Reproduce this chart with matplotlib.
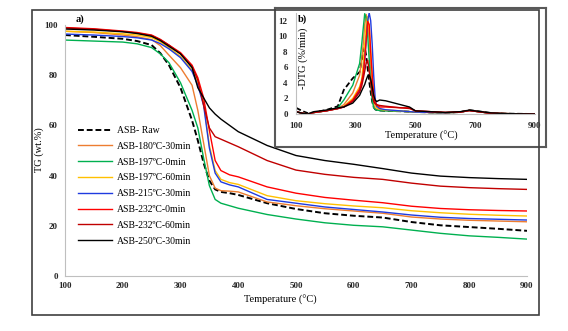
import matplotlib
matplotlib.use('Agg')
import matplotlib.pyplot as plt
from matplotlib.patches import Rectangle

plt.rcParams['font.family'] = ['Liberation Serif', 'DejaVu Serif']

# ---- TG data (wt.%) ----
temp_tg = [100, 150, 200, 225, 250, 265, 280, 300, 320, 330, 340, 350, 360, 370, 385, 400,
           450, 500, 550, 600, 650, 700, 750, 800, 850, 900]

tg_raw = [96, 95.3, 94.5, 93.6, 92, 88.8, 84, 75, 62, 54, 45, 38, 34.5, 33.5, 33, 32.3,
          29, 26.7, 25, 24, 23.3, 21.5, 20.2, 19.5, 18.8, 18]
tg_180_30 = [97.5, 97, 96, 95.3, 94.2, 91.8, 88, 83, 76, 66, 53, 40, 35, 34, 33.8, 33.5,
             29.5, 28, 26.8, 25.9, 25, 23.5, 22.7, 22.2, 21.9, 21.6]
tg_197_0 = [94, 93.6, 93.2, 92.5, 91, 88.5, 85, 77, 66, 59, 47, 36, 30.5, 29, 28, 27,
            24.5, 22.7, 21.2, 20.2, 19.6, 18.3, 17, 16, 15.4, 14.7]
tg_197_60 = [97.5, 97.2, 96.5, 96, 95, 93.3, 91, 87.5, 82, 77, 69, 52, 42, 38.5, 37.2, 36.5,
             32, 30, 28.8, 27.9, 27.2, 26, 25.2, 24.6, 24.2, 23.9]
tg_215_30 = [96.4, 96, 95.4, 94.9, 94, 92.6, 90.5, 87, 81.5, 76, 68, 51, 41, 37.5, 36.3, 35.5,
             30.5, 29, 27.5, 26.5, 25.5, 24.3, 23.4, 22.9, 22.6, 22.3]
tg_232_0 = [99, 98.5, 97.6, 97, 96, 94.3, 92, 89, 84, 79, 71, 58, 46, 42, 40.3, 39.5,
            35.5, 33, 31.3, 30.2, 29.2, 27.8, 26.9, 26.4, 26.1, 25.9]
tg_232_60 = [98.8, 98.3, 97.4, 96.8, 95.8, 94.1, 92, 88.5, 83.5, 78, 68, 59, 55.5, 54.5, 53, 51.5,
             46, 42.2, 40.5, 39.3, 38.5, 37, 35.8, 35.2, 34.8, 34.5]
tg_250_30 = [98.4, 98, 97.3, 96.6, 95.5, 93.8, 91.5, 88.5, 83, 75, 71, 67, 64.5, 62.5, 60, 57.5,
             52, 48, 46, 44.5, 42.8, 41, 39.8, 39.2, 38.8, 38.5]

# ---- DTG data (%/min) ----
temp_dtg = [100, 120, 140, 160, 200, 240, 260, 290, 313, 320, 325, 330, 335, 340,
            345, 350, 355, 360, 365, 370, 380, 400, 450, 480, 500, 550, 600, 650,
            680, 700, 750, 800, 900]

dtg_raw = [0.8, 0.4, 0.1, 0.2, 0.5, 1.0, 3.1, 4.6, 5.4, 6.9, 8.0, 8.6, 7.5, 5.8,
           4.2, 2.8, 1.6, 0.9, 0.6, 0.5, 0.45, 0.4, 0.35, 0.3, 0.25, 0.2, 0.15, 0.25,
           0.5, 0.4, 0.15, 0.05, 0.0]
dtg_180_30 = [0.3, 0.1, 0.0, 0.2, 0.4, 0.7, 1.2, 2.7, 5.0, 7.0, 9.0, 11.5, 12.8, 12.0,
              9.5, 6.0, 3.0, 1.2, 0.7, 0.6, 0.5, 0.45, 0.35, 0.3, 0.25, 0.2, 0.15, 0.25,
              0.45, 0.35, 0.1, 0.05, 0.0]
dtg_197_0 = [0.3, 0.1, 0.0, 0.2, 0.4, 0.8, 1.8, 3.7, 6.5, 9.0, 11.0, 12.9, 12.3, 10.0,
             7.0, 4.0, 1.8, 0.8, 0.6, 0.5, 0.45, 0.4, 0.35, 0.3, 0.25, 0.2, 0.15, 0.25,
             0.45, 0.35, 0.1, 0.05, 0.0]
dtg_197_60 = [0.3, 0.1, 0.0, 0.2, 0.4, 0.7, 1.0, 2.0, 3.5, 4.5, 6.5, 9.0, 11.5, 12.5,
              11.0, 8.0, 5.0, 2.5, 1.2, 0.8, 0.6, 0.5, 0.4, 0.3, 0.25, 0.2, 0.15, 0.25,
              0.45, 0.35, 0.1, 0.05, 0.0]
dtg_215_30 = [0.3, 0.1, 0.0, 0.2, 0.4, 0.7, 0.9, 1.7, 3.0, 4.0, 5.0, 7.0, 9.5, 12.0,
              13.0, 12.0, 9.0, 5.0, 2.0, 1.0, 0.7, 0.55, 0.4, 0.3, 0.25, 0.2, 0.15, 0.25,
              0.45, 0.35, 0.1, 0.05, 0.0]
dtg_232_0 = [0.3, 0.1, 0.0, 0.2, 0.4, 0.7, 0.9, 1.8, 3.2, 4.2, 5.2, 7.0, 9.5, 11.9,
             11.5, 8.0, 5.0, 2.5, 1.5, 1.2, 0.9, 0.9, 0.8, 0.8, 0.4, 0.3, 0.2, 0.25,
             0.45, 0.35, 0.1, 0.05, 0.0]
dtg_232_60 = [0.3, 0.1, 0.0, 0.2, 0.4, 0.7, 0.9, 1.6, 2.8, 3.6, 4.5, 5.5, 6.6, 6.9,
              5.5, 4.0, 2.5, 1.6, 1.3, 1.2, 1.1, 1.0, 0.8, 0.7, 0.4, 0.3, 0.2, 0.25,
              0.45, 0.35, 0.1, 0.05, 0.0]
dtg_250_30 = [0.3, 0.1, 0.0, 0.3, 0.5, 0.8, 0.9, 1.4, 2.4, 3.0, 3.4, 3.8, 4.4, 4.9,
              5.0, 4.5, 3.5, 2.4, 1.8, 1.6, 1.8, 1.7, 1.2, 0.9, 0.4, 0.3, 0.2, 0.3,
              0.5, 0.4, 0.15, 0.05, 0.0]

labels = ['ASB- Raw', 'ASB-180ºC-30min', 'ASB-197ºC-0min', 'ASB-197ºC-60min',
          'ASB-215ºC-30min', 'ASB-232ºC-0min', 'ASB-232ºC-60min', 'ASB-250ºC-30min']
colors = ['black', '#ED7D31', '#00B050', '#FFC000', '#1F3BE0', '#FF0000', '#C00000', 'black']

tg_series = [tg_raw, tg_180_30, tg_197_0, tg_197_60, tg_215_30, tg_232_0, tg_232_60, tg_250_30]
dtg_series = [dtg_raw, dtg_180_30, dtg_197_0, dtg_197_60, dtg_215_30, dtg_232_0, dtg_232_60, dtg_250_30]

W, H = 568, 331


def rect(x0, y0, x1, y1):
    # pixel box (top-left origin) -> figure fraction [l, b, w, h]
    return [x0 / W, 1 - y1 / H, (x1 - x0) / W, (y1 - y0) / H]


fig = plt.figure(figsize=(W / 100, H / 100), dpi=100)
fig.patches.append(Rectangle((32 / W, 1 - 315 / H), (539 - 32) / W, (315 - 10) / H,
                             transform=fig.transFigure, fill=False,
                             edgecolor='#404040', lw=1.2))

# main TG plot
ax = fig.add_axes(rect(65, 25, 527, 276))
for i, (y, lab, c) in enumerate(zip(tg_series, labels, colors)):
    if i == 0:
        ax.plot(temp_tg, y, color=c, lw=1.4, ls=(0, (3, 1.5)), label=lab)
    else:
        ax.plot(temp_tg, y, color=c, lw=1.0, label=lab)
ax.set_xlim(100, 900)
ax.set_ylim(0, 100)
ax.set_xticks(range(100, 901, 100))
ax.set_yticks(range(0, 101, 20))
for s in ['top', 'right']:
    ax.spines[s].set_visible(False)
for s in ['left', 'bottom']:
    ax.spines[s].set_color('#BFBFBF')
ax.tick_params(length=0, labelsize=6.5, colors='#262626')
ax.tick_params(axis='x', pad=4.5)
ax.tick_params(axis='y', pad=5)
for t in ax.get_xticklabels() + ax.get_yticklabels():
    t.set_fontweight('bold')

leg = ax.legend(loc='upper left', bbox_to_anchor=(78 / W, 1 - 126 / H),
                bbox_transform=fig.transFigure, frameon=False, fontsize=7,
                handlelength=3.5, handletextpad=0.5, labelspacing=0.7,
                borderpad=0, borderaxespad=0)

fig.text(39 / W, 1 - 150 / H, 'TG (wt.%)', rotation=90, ha='center', va='center', fontsize=7.5)
fig.text(280 / W, 1 - 300 / H, 'Temperature (°C)', ha='center', va='center', fontsize=7.5)
fig.text(76 / W, 1 - 19 / H, 'a)', ha='left', va='center', fontsize=7.5, fontweight='bold')

# inset frame
frame = fig.add_axes(rect(275, 8, 546, 147))
frame.set_xticks([])
frame.set_yticks([])
for s in frame.spines.values():
    s.set_color('#595959')
    s.set_linewidth(1.5)

# inset DTG plot
ax2 = fig.add_axes(rect(296, 12.9, 535, 114))
for i, (y, c) in enumerate(zip(dtg_series, colors)):
    if i == 0:
        ax2.plot(temp_dtg, y, color=c, lw=1.3, ls=(0, (3, 1.5)))
    else:
        ax2.plot(temp_dtg, y, color=c, lw=1.0)
ax2.set_xlim(100, 900)
ax2.set_ylim(0, 13)
ax2.set_xticks(range(100, 901, 200))
ax2.set_yticks(range(0, 13, 2))
ax2.patch.set_alpha(0)
for s in ['top', 'right']:
    ax2.spines[s].set_visible(False)
for s in ['left', 'bottom']:
    ax2.spines[s].set_color('#BFBFBF')
ax2.tick_params(length=0, labelsize=6.5, colors='#262626')
ax2.tick_params(axis='x', pad=6)
ax2.tick_params(axis='y', pad=6)
for t in ax2.get_xticklabels() + ax2.get_yticklabels():
    t.set_fontweight('bold')

fig.text(303 / W, 1 - 58 / H, '-DTG (%/min)', rotation=90, ha='center', va='center', fontsize=7.5)
fig.text(421 / W, 1 - 136.5 / H, 'Temperature (°C)', ha='center', va='center', fontsize=7.5)
fig.text(298 / W, 1 - 19 / H, 'b)', ha='left', va='center', fontsize=7.5, fontweight='bold')

fig.savefig('out.png', dpi=100)
